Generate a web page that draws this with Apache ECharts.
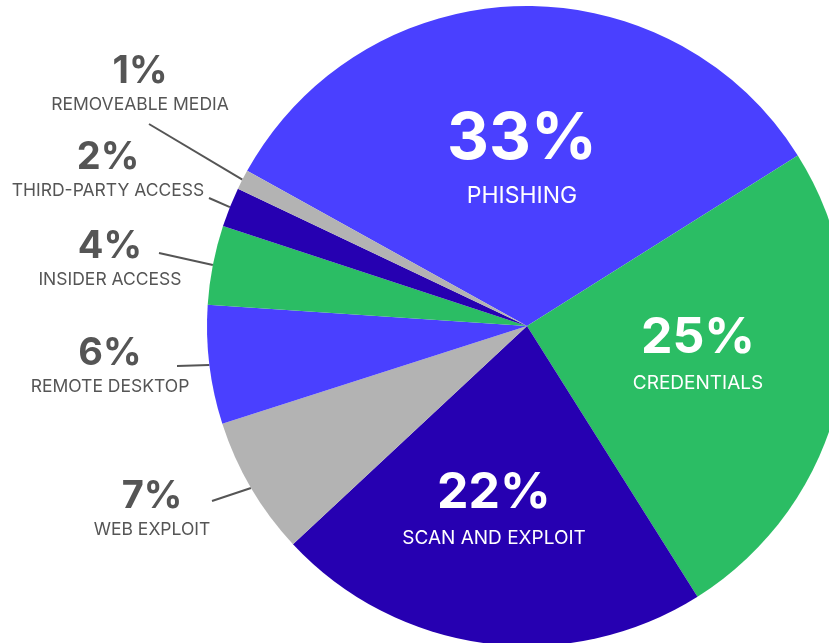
<!DOCTYPE html>
<html>
<head>
    <meta charset="utf-8">
    <title>pie</title>
    <script src="https://cdn.jsdelivr.net/npm/echarts@6/dist/echarts.min.js"></script>
    <style>
        html, body { margin: 0; padding: 0; background: #fff; }
    </style>
</head>
<body>

<div id="main" style="width: 829px;height:643px;"></div>

<script type="text/javascript">
    // data
    var categories = ['PHISHING', 'CREDENTIALS', 'SCAN AND EXPLOIT', 'WEB EXPLOIT',
        'REMOTE DESKTOP', 'INSIDER ACCESS', 'THIRD-PARTY ACCESS', 'REMOVEABLE MEDIA'];
    var values = [33, 25, 22, 7, 6, 4, 2, 1];
    var colors = ['#4a40ff', '#2bbd64', '#2600b1', '#b3b3b3', '#4a40ff', '#2bbd64', '#2600b1', '#b3b3b3'];

    // label placement (centre of each label block) and where the leader line stops
    var labelPos = [[522, 161], [698, 355], [494, 510], [152, 511], [110, 368], [110, 261], [108, 172], [140, 86]];
    var lineEnd = [null, null, null, [212, 501], [177, 366], [159, 253], [209, 198], [149, 124]];
    var labelSize = ['big', 'mid', 'mid', 'sm', 'sm', 'sm', 'sm', 'sm'];

    var myChart = echarts.init(document.getElementById('main'));

    var data = categories.map(function (name, i) {
        var isInside = labelSize[i] !== 'sm';
        return {
            name: name,
            value: values[i],
            itemStyle: { color: colors[i] },
            label: { position: isInside ? 'inside' : 'outside' },
            labelLine: { show: !isInside }
        };
    });

    var option = {
        animation: false,
        series: [{
            type: 'pie',
            center: [527, 326],
            radius: 320,
            startAngle: 151,
            clockwise: true,
            avoidLabelOverlap: false,
            data: data,
            label: {
                width: 260,
                overflow: 'none',
                align: 'center',
                fontFamily: 'Inter',
                formatter: function (p) {
                    var s = labelSize[p.dataIndex];
                    return '{' + s + '|' + p.value + '%}\n{' + s + 'Name|' + p.name + '}';
                },
                rich: {
                    big: { fontFamily: 'Inter', fontWeight: 'bold', fontSize: 65, lineHeight: 70, color: '#fff', align: 'center' },
                    bigName: { fontFamily: 'Inter', fontSize: 23, lineHeight: 44, color: '#fff', align: 'center' },
                    mid: { fontFamily: 'Inter', fontWeight: 'bold', fontSize: 50, lineHeight: 56, color: '#fff', align: 'center' },
                    midName: { fontFamily: 'Inter', fontSize: 19, lineHeight: 35, color: '#fff', align: 'center' },
                    sm: { fontFamily: 'Inter', fontWeight: 'bold', fontSize: 38, lineHeight: 38, color: '#555', align: 'center' },
                    smName: { fontFamily: 'Inter', fontSize: 17.5, lineHeight: 28, color: '#555', align: 'center' }
                }
            },
            labelLine: {
                lineStyle: { color: '#555', width: 2 }
            },
            labelLayout: function (p) {
                var i = p.dataIndex;
                var res = {
                    x: labelPos[i][0],
                    y: labelPos[i][1],
                    align: 'center',
                    verticalAlign: 'middle'
                };
                if (lineEnd[i] && p.labelLinePoints) {
                    var pts = p.labelLinePoints;
                    res.labelLinePoints = [pts[0], lineEnd[i], lineEnd[i]];
                }
                return res;
            }
        }]
    };

    myChart.setOption(option);
</script>
</body>
</html>
